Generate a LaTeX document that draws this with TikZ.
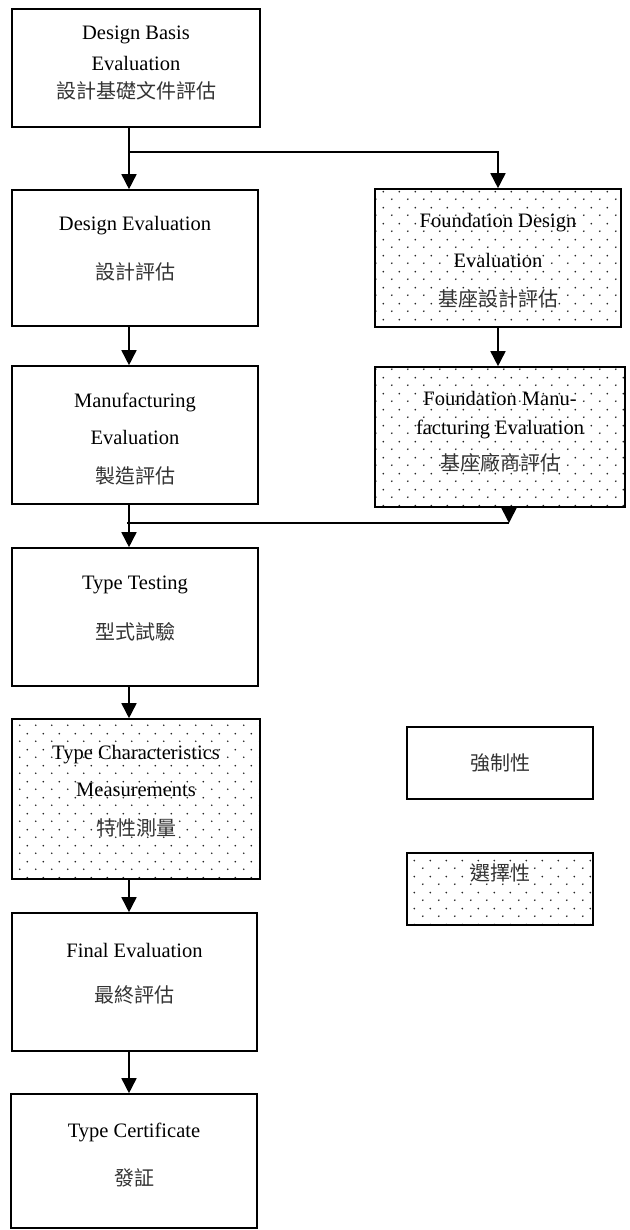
\documentclass[tikz,border=0pt]{standalone}
\usepackage{fontspec}
\setmainfont{Liberation Serif}
\newfontfamily\cjk{Noto Sans CJK TC}
\usetikzlibrary{arrows.meta,patterns}

% sparse staggered dot fill for the optional steps
\pgfdeclarepatternformonly{sparsedots}{\pgfpointorigin}{\pgfqpoint{15.5pt}{15.5pt}}{\pgfqpoint{15.5pt}{15.5pt}}{%
  \pgfpathcircle{\pgfqpoint{3.9pt}{3.9pt}}{0.95pt}%
  \pgfpathcircle{\pgfqpoint{11.65pt}{11.65pt}}{0.95pt}%
  \pgfusepath{fill}}

\tikzset{
  box/.style={draw, line width=1.6pt, inner sep=0pt, rectangle},
  optbox/.style={box, pattern=sparsedots, pattern color=black!85},
  txt/.style={inner sep=0pt, font=\fontsize{20.5}{24}\selectfont},
  ctxt/.style={inner sep=0pt, font=\fontsize{20}{24}\selectfont\cjk, text=black!80},
  link/.style={line width=1.6pt},
  arr/.style={line width=1.6pt, -{Triangle[width=15pt,length=15pt]}}
}

\begin{document}
\begin{tikzpicture}[x=1pt,y=-1pt]
\useasboundingbox (0,0) rectangle (629,1230);

% boxes
\node[box, minimum width=248pt, minimum height=118pt] (b1) at (136,68) {};
\node[box, minimum width=246pt, minimum height=136pt] (b2) at (135,258) {};
\node[box, minimum width=246pt, minimum height=138pt] (b3) at (135,435) {};
\node[optbox, minimum width=246pt, minimum height=138pt] (fa) at (498,258) {};
\node[optbox, minimum width=250pt, minimum height=140pt] (fb) at (500,437) {};
\node[box, minimum width=246pt, minimum height=138pt] (tt) at (135,617) {};
\node[optbox, minimum width=248pt, minimum height=160pt] (tc) at (136,799) {};
\node[box, minimum width=245pt, minimum height=138pt] (fe) at (134.5,982) {};
\node[box, minimum width=246pt, minimum height=134pt] (ce) at (134,1161) {};
\node[box, minimum width=186pt, minimum height=72pt] (la) at (500,763) {};
\node[optbox, minimum width=186pt, minimum height=72pt] (lb) at (500,889) {};

% labels
\node[txt] (b1a) at (136,35) {Design Basis};
\node[txt] (b1b) at (136,63) {Evaluation};
\node[ctxt] (b1c) at (136,91) {設計基礎文件評估};

\node[txt] (b2a) at (135,226) {Design Evaluation};
\node[ctxt] (b2b) at (135,272) {設計評估};

\node[txt] (b3a) at (135,402) {Manufacturing};
\node[txt] (b3b) at (135,437) {Evaluation};
\node[ctxt] (b3c) at (135,476) {製造評估};

\node[txt] (faa) at (498,223) {Foundation Design};
\node[txt] (fab) at (498,260) {Evaluation};
\node[ctxt] (fac) at (498,299) {基座設計評估};

\node[txt] (fba) at (500,398) {Foundation Manu-};
\node[txt] (fbb) at (500,429) {facturing Evaluation};
\node[ctxt] (fbc) at (500,463) {基座廠商評估};

\node[txt] (tta) at (135,585) {Type Testing};
\node[ctxt] (ttb) at (135,632) {型式試驗};

\node[txt] (tca) at (136,755) {Type Characteristics};
\node[txt] (tcb) at (136,790) {Measurements};
\node[ctxt] (tcc) at (136,828) {特性測量};

\node[txt] (fea) at (134.5,950) {Final Evaluation};
\node[ctxt] (feb) at (134.5,995) {最終評估};

\node[txt] (cea) at (134,1132) {Type Certificate};
\node[ctxt] (ceb) at (134,1178) {發証};

\node[ctxt] (laa) at (500,763) {強制性};
\node[ctxt] (lba) at (500,873) {選擇性};

% connectors
\coordinate (j1) at (129,152);
\coordinate (j2) at (129,523);
\coordinate (j2l) at (127,523);
\coordinate (j3) at (509,523);

\draw[arr] (b1.south -| j1) -- (b2.north -| j1);
\draw[arr] (j1) -| (fa.north);
\draw[arr] (b2.south -| j1) -- (b3.north -| j1);
\draw[arr] (fa.south) -- (fa.south |- fb.north);
\draw[arr] (b3.south -| j2) -- (tt.north -| j2);
\draw[arr] (fb.south -| j3) -- (j3);
\draw[link] (j3) -- (j2l);
\draw[arr] (tt.south -| j1) -- (tc.north -| j1);
\draw[arr] (tc.south -| j1) -- (fe.north -| j1);
\draw[arr] (fe.south -| j1) -- (ce.north -| j1);
\end{tikzpicture}
\end{document}
